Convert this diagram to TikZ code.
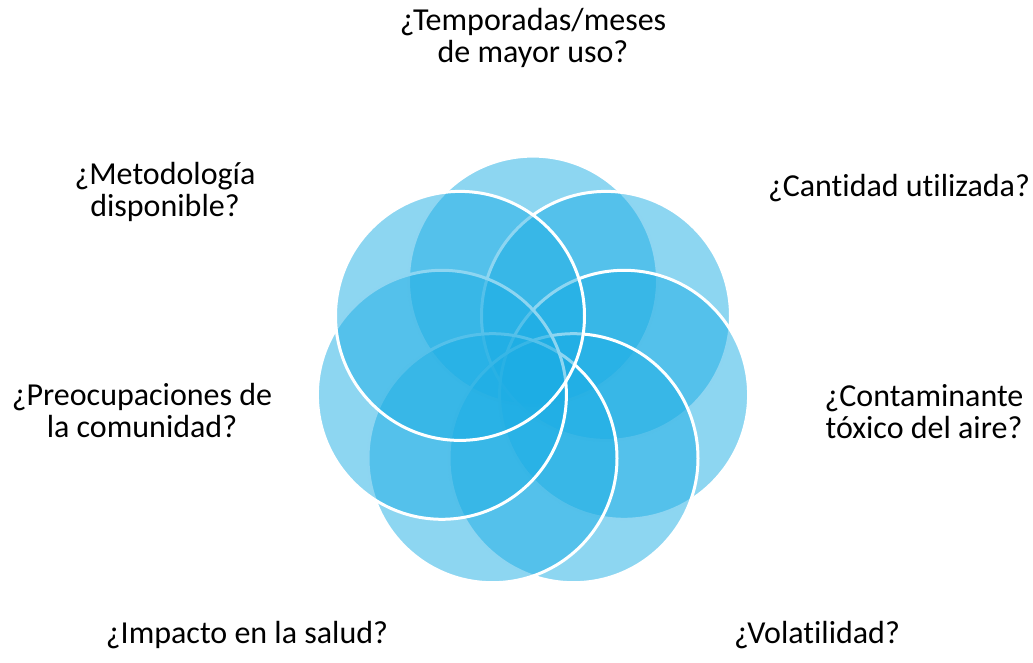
\documentclass[tikz,border=0pt]{standalone}
\usepackage{fontspec}
\setmainfont{Carlito}[Ligatures=NoCommon]
\definecolor{petal}{HTML}{1CADE4}

\begin{document}
\begin{tikzpicture}[x=0.75pt,y=0.75pt,yscale=-1,xscale=1,
  petalcirc/.style={fill=petal,fill opacity=0.5,draw=white,draw opacity=1,line width=2.25pt},
  qlabel/.style={inner sep=0.75pt,align=center,font=\fontsize{24}{24}\selectfont}]
\useasboundingbox (0,0) rectangle (1033,663);
%Shape: Circle top
\draw [petalcirc] (533,280.6) circle (124.5);
%Shape: Circle top right
\draw [petalcirc] (606,315.9) circle (124.5);
%Shape: Circle right
\draw [petalcirc] (624.1,394.8) circle (124.5);
%Shape: Circle bottom right
\draw [petalcirc] (573.5,458.2) circle (124.5);
%Shape: Circle bottom left
\draw [petalcirc] (492.5,458.2) circle (124.5);
%Shape: Circle left
\draw [petalcirc] (441.9,394.8) circle (124.5);
%Shape: Circle top left
\draw [petalcirc] (460,315.9) circle (124.5);
%Labels (base = last line)
\node (temporadas) at (533,63) [anchor=base,qlabel] {¿Temporadas/meses\\de mayor uso?};
\node (cantidad) at (899,197) [anchor=base,qlabel] {¿Cantidad utilizada?};
\node (contaminante) at (924,438) [anchor=base,qlabel] {¿Contaminante\\tóxico del aire?};
\node (volatilidad) at (817,643) [anchor=base,qlabel] {¿Volatilidad?};
\node (impacto) at (247,643) [anchor=base,qlabel] {¿Impacto en la salud?};
\node (preocupaciones) at (142,437) [anchor=base,qlabel] {¿Preocupaciones de\\la comunidad?};
\node (metodologia) at (165,217) [anchor=base,qlabel] {¿Metodología\\disponible?};
\end{tikzpicture}
\end{document}
